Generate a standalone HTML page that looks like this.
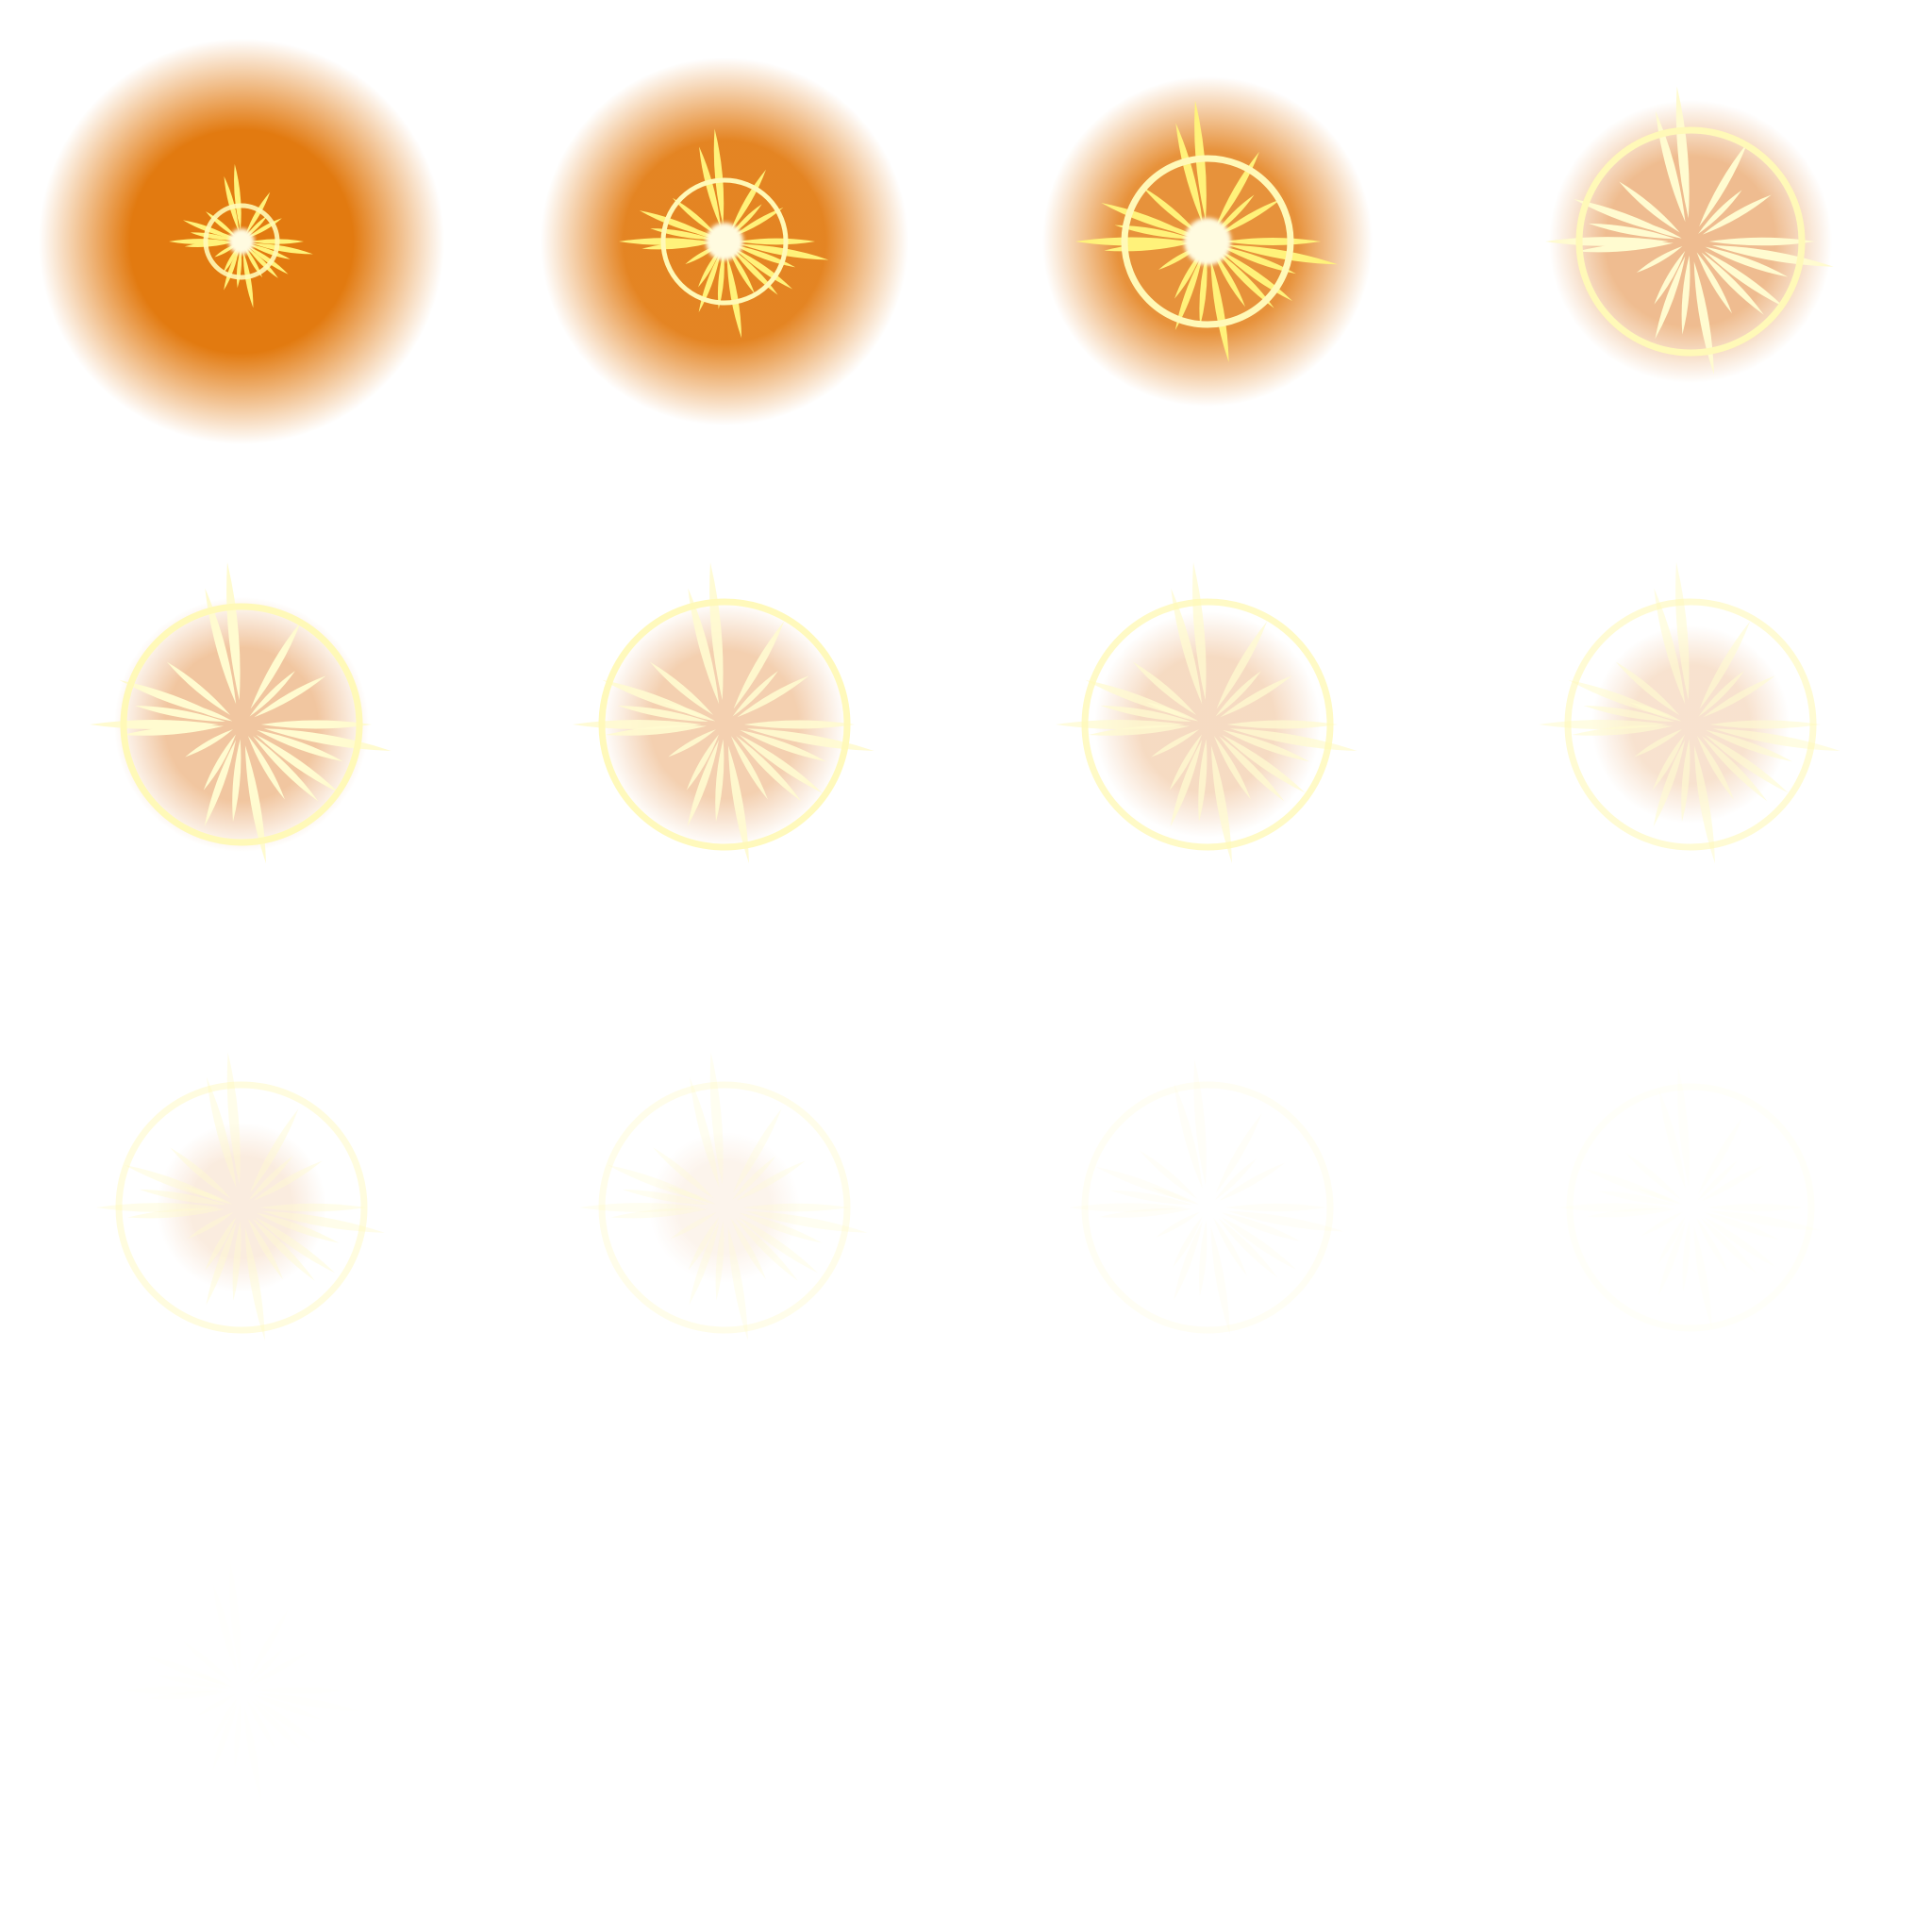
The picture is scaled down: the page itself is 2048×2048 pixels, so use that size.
<!DOCTYPE html>
<html><head><meta charset="utf-8">
<style>html,body{margin:0;padding:0;background:#fff;}svg{display:block;}</style>
</head><body>
<svg id="sheet" width="2048" height="2048" viewBox="0 0 2048 2048" xmlns="http://www.w3.org/2000/svg">
<defs>
<radialGradient id="glow"><stop offset="0" stop-color="#e27a10"/><stop offset="0.55" stop-color="#e27a10"/><stop offset="1" stop-color="#e27a10" stop-opacity="0"/></radialGradient>
<radialGradient id="glowSoft"><stop offset="0" stop-color="#e8a060"/><stop offset="0.6" stop-color="#e8a060"/><stop offset="1" stop-color="#e8a060" stop-opacity="0"/></radialGradient>
<filter id="blur2"><feGaussianBlur stdDeviation="2"/></filter>
</defs>
</svg>
<script>
const glowRadius = [215,195,175,150,135,130,120,105,90,80,0,0,0,0,0,0];
const glowOpacity = [1,0.92,0.82,0.7,0.6,0.5,0.38,0.3,0.2,0.12,0,0,0,0,0,0];
const ringRadius = [38,65,88,118,125,130,130,130,130,130,130,128,0,0,0,0];
const ringOpacity = [0.9,1,1,1,1,0.95,0.8,0.6,0.45,0.3,0.15,0.08,0,0,0,0];
const rayScale = [0.55,0.8,1,1.1,1.15,1.15,1.15,1.15,1.1,1.1,1.05,1,0.9,0,0,0];
const rayOpacity = [1,1,1,1,1,0.9,0.75,0.6,0.45,0.3,0.15,0.08,0.05,0,0,0];
const rayAngles = [-105,-95,-60,-30,-160,-170,-140,180,175,10,0,20,35,45,60,80,95,110,120,150,-45,200];
const rayLengths = [130,150,110,90,120,100,90,140,110,140,120,100,110,100,80,130,90,100,70,60,70,60];
const NS='http://www.w3.org/2000/svg';
const svg=document.getElementById('sheet');
for(let i=0;i<16;i++){
  const cx=256+512*(i%4), cy=256+512*Math.floor(i/4);
  const g=document.createElementNS(NS,'g');
  
  
  svg.appendChild(g);
  if(glowOpacity[i]>0){
    const c=document.createElementNS(NS,'circle');
    
    
    c.setAttribute('cx',cx);c.setAttribute('cy',cy);c.setAttribute('r',glowRadius[i]);
    c.setAttribute('fill',i<3?'url(#glow)':'url(#glowSoft)');
    c.setAttribute('opacity',glowOpacity[i]);
    g.appendChild(c);
  }
  if(rayScale[i]>0){
    rayAngles.forEach((a,k)=>{
      const L=rayLengths[k]*rayScale[i], r0=L*0.15, w=L*0.05+2;
      const t=a*Math.PI/180, ux=Math.cos(t), uy=Math.sin(t), px=-uy, py=ux;
      const x0=cx+ux*r0,y0=cy+uy*r0,x1=cx+ux*L,y1=cy+uy*L,mx=cx+ux*(r0+L)/2,my=cy+uy*(r0+L)/2;
      const p=document.createElementNS(NS,'path');
      
      
      p.setAttribute('d',`M${x0},${y0} Q${mx+px*w},${my+py*w} ${x1},${y1} Q${mx-px*w},${my-py*w} ${x0},${y0}Z`);
      p.setAttribute('fill',i<3?'#fff27a':'#fffbd0');
      p.setAttribute('opacity',rayOpacity[i]);
      g.appendChild(p);
    });
    if(i<3){
      const core=document.createElementNS(NS,'circle');
      
      
      core.setAttribute('cx',cx);core.setAttribute('cy',cy);core.setAttribute('r',25*rayScale[i]);
      core.setAttribute('fill','#fffbe0');core.setAttribute('filter','url(#blur2)');
      g.appendChild(core);
    }
  }
  if(ringRadius[i]>0){
    const r=document.createElementNS(NS,'circle');
    
    
    r.setAttribute('cx',cx);r.setAttribute('cy',cy);r.setAttribute('r',ringRadius[i]);
    r.setAttribute('fill','none');r.setAttribute('stroke','#fff9b8');
    r.setAttribute('stroke-width',i<2?5:7);r.setAttribute('opacity',ringOpacity[i]);
    g.appendChild(r);
  }
}
</script>
</body></html>
